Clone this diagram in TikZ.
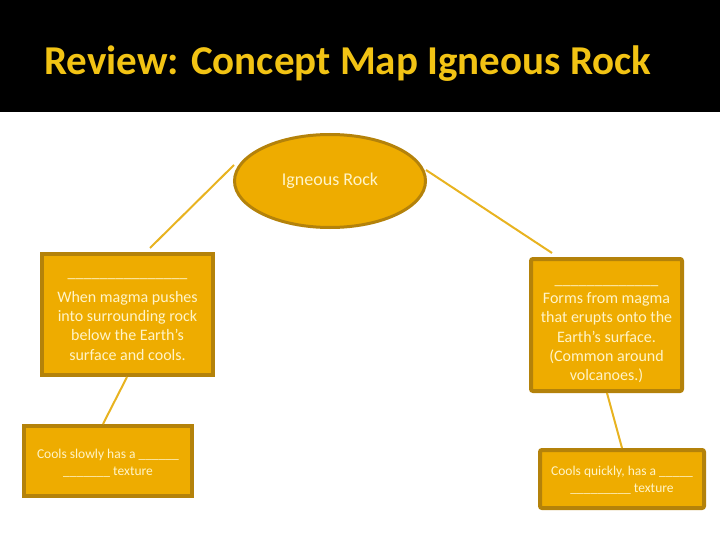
\documentclass[tikz,border=0pt]{standalone}
\usepackage{fontspec}
\setmainfont{Carlito}
\usetikzlibrary{shapes.geometric}
\definecolor{hdr}{HTML}{000000}
\definecolor{ttl}{HTML}{F2C314}
\definecolor{boxfill}{HTML}{EEAC00}
\definecolor{boxline}{HTML}{B4820A}
\definecolor{txt}{HTML}{FFF4C8}
\definecolor{conn}{HTML}{E8B320}
\newcommand{\blank}[1]{\foreach \i in {1,...,#1}{\_}}
\tikzset{
  concept/.style={draw=boxline, fill=boxfill, line width=4pt, inner sep=0pt},
  btext/.style={text=txt, align=center, inner sep=0pt, font=\fontsize{16}{19.3}\selectfont},
  stext/.style={btext, font=\fontsize{13.5}{17}\selectfont},
  link/.style={draw=conn, line width=2pt}
}
\begin{document}
\begin{tikzpicture}[x=1pt,y=-1pt]
\useasboundingbox (0,0) rectangle (720,540);
\fill[hdr] (0,0) rectangle (720,112);
\node[anchor=west, text=ttl, font=\fontsize{41}{45}\selectfont\bfseries, inner sep=0pt] (title) at (44,64) {Review: Concept Map Igneous Rock};
\node[ellipse, draw=boxline, fill=boxfill, line width=3pt, minimum width=191pt, minimum height=93pt, text=txt, font=\fontsize{18}{20}\selectfont] (root) at (330,181) {Igneous Rock};
\node[concept, minimum width=171pt, minimum height=121pt] (intr) at (127.5,314.5) {};
\node[btext] (intrtext) at (127.5,319) {\blank{15}\\[5pt]When magma pushes\\into surrounding rock\\below the Earth's\\surface and cools.};
\node[concept, rounded corners=2pt, minimum width=151pt, minimum height=132pt] (extr) at (606.5,325) {};
\node[btext] (extrtext) at (606.5,333.5) {\blank{13}\\Forms from magma\\that erupts onto the\\Earth's surface.\\(Common around\\volcanoes.)};
\node[concept, minimum width=168pt, minimum height=70pt] (slow) at (108,461) {};
\node[stext] (slowtext) at (108,463) {Cools slowly has a \blank{6}\\\blank{7} texture};
\node[concept, rounded corners=2pt, minimum width=164pt, minimum height=58pt] (fast) at (622,479) {};
\node[stext] (fasttext) at (622,480) {Cools quickly, has a \blank{5}\\\blank{9} texture};
\coordinate (a1) at (150,248);
\coordinate (a2) at (552,253);
\draw[link] (root.west) ++(1,-16) -- (a1);
\draw[link] (root.east) ++(-1,-11) -- (a2);
\draw[link] (intr.south) ++(-0.5,0) -- ([xshift=-5pt]slow.north);
\draw[link] (extr.south) ++(0.5,0) -- (fast.north);
\end{tikzpicture}
\end{document}
